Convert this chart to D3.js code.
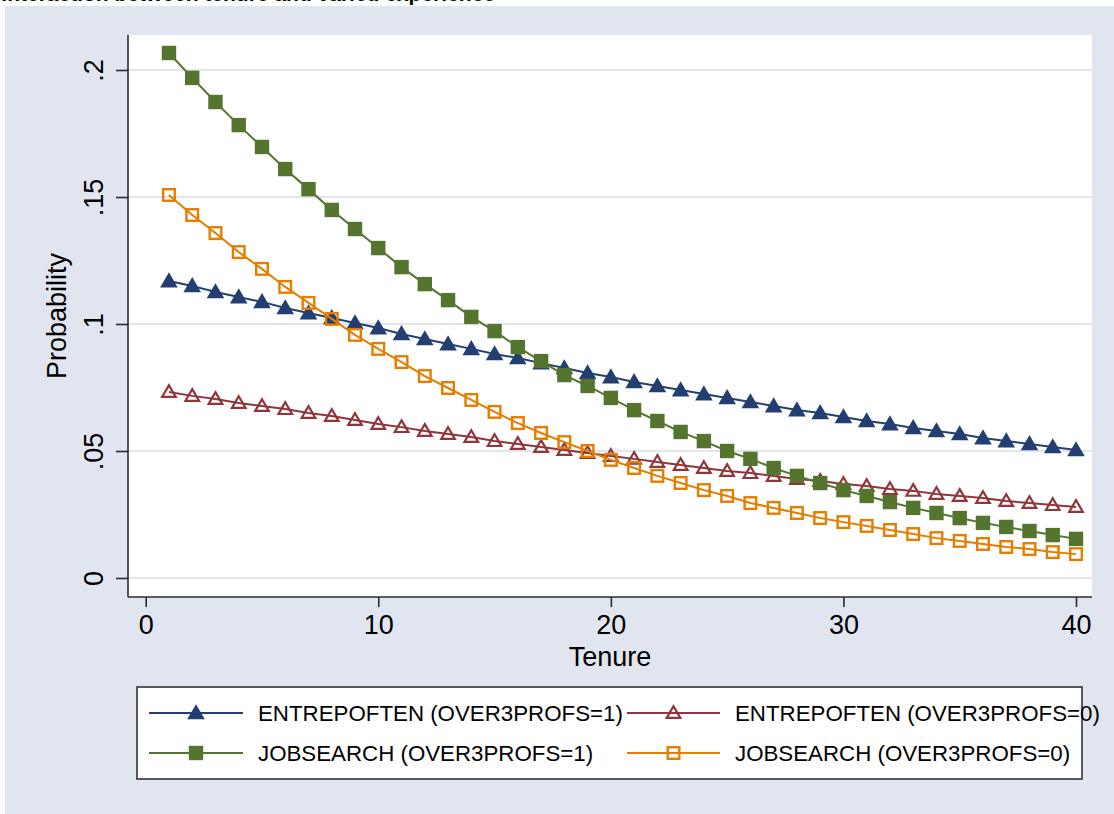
<!DOCTYPE html>
<html><head><meta charset="utf-8">
<script src="https://cdn.jsdelivr.net/npm/d3@7"></script>
<style>
html,body{margin:0;padding:0;background:#fff;}
svg text{font-family:"Liberation Sans",Arial,Helvetica,sans-serif;}
</style></head>
<body>
<script>
const tenure = d3.range(1, 41);
const entreOver1 = [0.1169,0.1150,0.1126,0.1106,0.1087,0.1063,0.1043,0.1024,0.1004,0.0984,0.0961,0.0941,0.0921,0.0902,0.0882,0.0866,0.0846,0.0827,0.0807,0.0791,0.0772,0.0756,0.0740,0.0724,0.0709,0.0693,0.0677,0.0661,0.0650,0.0634,0.0618,0.0606,0.0591,0.0579,0.0567,0.0551,0.0539,0.0528,0.0516,0.0504];
const entreOver0 = [0.0732,0.0717,0.0705,0.0689,0.0677,0.0665,0.0650,0.0638,0.0622,0.0606,0.0594,0.0579,0.0567,0.0555,0.0539,0.0528,0.0516,0.0504,0.0492,0.0480,0.0469,0.0457,0.0445,0.0433,0.0421,0.0413,0.0402,0.0390,0.0382,0.0370,0.0362,0.0350,0.0343,0.0331,0.0323,0.0315,0.0303,0.0295,0.0287,0.0280];
const jobOver1 = [0.2067,0.1969,0.1874,0.1783,0.1697,0.1610,0.1531,0.1449,0.1374,0.1299,0.1224,0.1157,0.1094,0.1028,0.0972,0.0909,0.0854,0.0799,0.0756,0.0709,0.0661,0.0618,0.0575,0.0539,0.0500,0.0469,0.0433,0.0402,0.0374,0.0346,0.0323,0.0299,0.0276,0.0256,0.0236,0.0217,0.0201,0.0185,0.0169,0.0154];
const jobOver0 = [0.1508,0.1429,0.1358,0.1283,0.1217,0.1146,0.1083,0.1020,0.0957,0.0902,0.0850,0.0795,0.0748,0.0701,0.0654,0.0610,0.0571,0.0535,0.0500,0.0465,0.0433,0.0402,0.0374,0.0346,0.0323,0.0295,0.0276,0.0256,0.0236,0.0220,0.0205,0.0189,0.0173,0.0157,0.0146,0.0134,0.0122,0.0114,0.0102,0.0094];
const yTicks = [0, 0.05, 0.1, 0.15, 0.2];
const yTickLabels = ["0", ".05", ".1", ".15", ".2"];
const xTicks = [0, 10, 20, 30, 40];
const seriesNames = ["ENTREPOFTEN (OVER3PROFS=1)", "ENTREPOFTEN (OVER3PROFS=0)", "JOBSEARCH (OVER3PROFS=1)", "JOBSEARCH (OVER3PROFS=0)"];
const titleText = "Interaction between tenure and varied experience";

const series = [
  {name: seriesNames[0], values: entreOver1, color: "#233f72", shape: "triangle", filled: true},
  {name: seriesNames[1], values: entreOver0, color: "#90353b", shape: "triangle", filled: false},
  {name: seriesNames[2], values: jobOver1, color: "#55752f", shape: "square", filled: true},
  {name: seriesNames[3], values: jobOver0, color: "#e37e00", shape: "square", filled: false}
];

const W = 1114, H = 814;
const bg = "#e0e5ef";
const svg = d3.select("body").append("svg").attr("width", W).attr("height", H);
svg.append("rect").attr("width", W).attr("height", H).attr("fill", "#fff");
svg.append("rect").attr("x", 5).attr("y", 6).attr("width", W - 5).attr("height", H - 6).attr("fill", bg);

// title, cut off at the top edge as in the reference
svg.append("text").attr("x", 495).attr("y", 1).attr("text-anchor", "end")
  .attr("font-size", 21).attr("font-weight", "bold").attr("fill", "#000").text(titleText);

const plot = {l: 128, r: 1092, t: 35, b: 597};
svg.append("rect").attr("x", plot.l).attr("y", plot.t).attr("width", plot.r - plot.l).attr("height", plot.b - plot.t).attr("fill", "#fff");

const x = d3.scaleLinear().domain([0, 40]).range([145.7, 1076]);
const y = d3.scaleLinear().domain([0, 0.2]).range([578, 70]);

// gridlines
svg.append("g").selectAll("line").data(yTicks).join("line")
  .attr("x1", plot.l).attr("x2", plot.r).attr("y1", d => y(d)).attr("y2", d => y(d))
  .attr("stroke", bg).attr("stroke-width", 2.2);

// y axis
const yAxis = d3.axisLeft(y).tickValues(yTicks).tickFormat((d, i) => yTickLabels[i]).tickSize(12).tickPadding(6);
const gy = svg.append("g").attr("transform", `translate(${plot.l},0)`).call(yAxis);
gy.select(".domain").attr("d", `M0,${plot.t}V${plot.b}`).attr("stroke", "#2b2b2b").attr("stroke-width", 1.6);
gy.selectAll(".tick line").attr("stroke", "#2b2b2b").attr("stroke-width", 1.6);
gy.selectAll(".tick text").attr("font-size", 27).attr("fill", "#000")
  .attr("text-anchor", "middle").attr("x", 0)
  .attr("transform", "translate(-34,0) rotate(-90)").attr("dy", "0.35em");

// x axis
const xAxis = d3.axisBottom(x).tickValues(xTicks).tickFormat(d3.format("d")).tickSize(10).tickPadding(8);
const gx = svg.append("g").attr("transform", `translate(0,${plot.b})`).call(xAxis);
gx.select(".domain").attr("d", `M${plot.l},0H${plot.r}`).attr("stroke", "#2b2b2b").attr("stroke-width", 1.6);
gx.selectAll(".tick line").attr("stroke", "#2b2b2b").attr("stroke-width", 1.6);
gx.selectAll(".tick text").attr("font-size", 27).attr("fill", "#000");

// axis titles
svg.append("text").attr("x", (plot.l + plot.r) / 2).attr("y", 666).attr("text-anchor", "middle")
  .attr("font-size", 27).attr("fill", "#000").text("Tenure");
svg.append("text").attr("transform", `translate(66,${(plot.t + plot.b) / 2}) rotate(-90)`)
  .attr("text-anchor", "middle").attr("font-size", 27).attr("fill", "#000").text("Probability");

function drawMarker(g, shape, filled, color, cx, cy) {
  if (shape === "square") {
    if (filled) {
      g.append("rect").attr("x", cx - 7.2).attr("y", cy - 7.2).attr("width", 14.4).attr("height", 14.4).attr("fill", color);
    } else {
      g.append("rect").attr("x", cx - 5.8).attr("y", cy - 5.8).attr("width", 11.6).attr("height", 11.6)
        .attr("fill", "none").attr("stroke", color).attr("stroke-width", 2.4);
    }
  } else {
    if (filled) {
      const s = 8.8;
      g.append("path").attr("d", `M${cx},${cy - s}L${cx + s},${cy + s * 0.72}L${cx - s},${cy + s * 0.72}Z`).attr("fill", color);
    } else {
      const s = 6.8;
      g.append("path").attr("d", `M${cx},${cy - s}L${cx + s},${cy + s * 0.72}L${cx - s},${cy + s * 0.72}Z`)
        .attr("fill", "none").attr("stroke", color).attr("stroke-width", 2.2).attr("stroke-linejoin", "miter");
    }
  }
}

const line = d3.line().x((d, i) => x(tenure[i])).y(d => y(d));
series.forEach(s => {
  const g = svg.append("g");
  g.append("path").attr("d", line(s.values)).attr("fill", "none").attr("stroke", s.color).attr("stroke-width", 2);
  s.values.forEach((v, i) => drawMarker(g, s.shape, s.filled, s.color, x(tenure[i]), y(v)));
});

// legend
const leg = svg.append("g");
leg.append("rect").attr("x", 137).attr("y", 687).attr("width", 945).attr("height", 92)
  .attr("fill", "#fff").attr("stroke", "#333").attr("stroke-width", 1.6);
const cols = [{x1: 149, x2: 243, tx: 258}, {x1: 627, x2: 720, tx: 735}];
const rows = [713, 753];
series.forEach((s, k) => {
  const c = cols[k % 2], ry = rows[Math.floor(k / 2)];
  leg.append("line").attr("x1", c.x1).attr("x2", c.x2).attr("y1", ry).attr("y2", ry)
    .attr("stroke", s.color).attr("stroke-width", 2);
  drawMarker(leg, s.shape, s.filled, s.color, (c.x1 + c.x2) / 2, ry);
  leg.append("text").attr("x", c.tx).attr("y", ry).attr("dy", "0.35em").attr("font-size", 22.3)
    .attr("fill", "#000").text(s.name);
});
</script>
</body></html>
